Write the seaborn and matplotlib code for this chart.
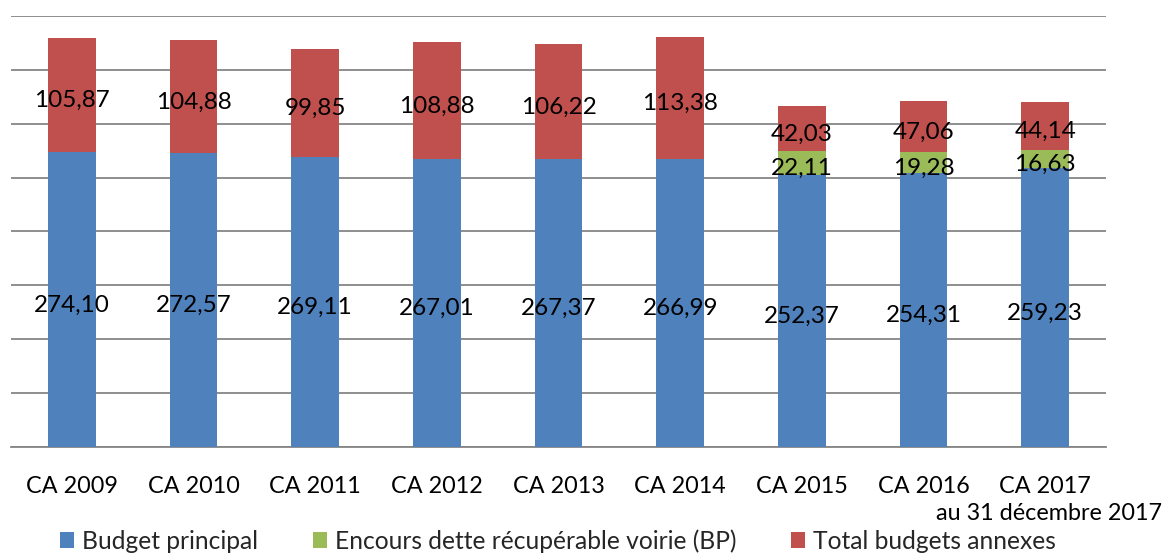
import matplotlib
matplotlib.use("Agg")
import matplotlib.pyplot as plt
from matplotlib.patches import Patch
import numpy as np
import pandas as pd
import seaborn as sns

categories = ["CA 2009", "CA 2010", "CA 2011", "CA 2012", "CA 2013",
              "CA 2014", "CA 2015", "CA 2016", "CA 2017"]
budget_principal = [274.10, 272.57, 269.11, 267.01, 267.37, 266.99, 252.37, 254.31, 259.23]
encours_voirie = [0, 0, 0, 0, 0, 0, 22.11, 19.28, 16.63]
budgets_annexes = [105.87, 104.88, 99.85, 108.88, 106.22, 113.38, 42.03, 47.06, 44.14]
series_names = ["Budget principal", "Encours dette récupérable voirie (BP)", "Total budgets annexes"]
colors = ["#4F81BD", "#9BBB59", "#C0504D"]
note = "au 31 décembre 2017"

sns.set_theme(style="white")
plt.rcParams["font.family"] = ["Lato", "DejaVu Sans"]
FS = 17.5
TFS = 16.8
LFS = 17.7

df = pd.DataFrame({"cat": categories,
                   "bp": budget_principal,
                   "ev": encours_voirie,
                   "ba": budgets_annexes})
df["c1"] = df["bp"]
df["c2"] = df["bp"] + df["ev"]
df["c3"] = df["c2"] + df["ba"]

fig = plt.figure(figsize=(11.65, 5.54), dpi=100)
ax = fig.add_axes([11 / 1165, 1 - 447 / 554, (1106 - 11) / 1165, (447 - 16) / 554])

W = 0.39
sns.barplot(data=df, x="cat", y="c3", color=colors[2], width=W, ax=ax,
            saturation=1, errorbar=None, linewidth=0, zorder=3)
sns.barplot(data=df, x="cat", y="c2", color=colors[1], width=W, ax=ax,
            saturation=1, errorbar=None, linewidth=0, zorder=3)
sns.barplot(data=df, x="cat", y="c1", color=colors[0], width=W, ax=ax,
            saturation=1, errorbar=None, linewidth=0, zorder=3)

def fmt(v):
    return f"{v:.2f}".replace(".", ",")

def label(x, y, v):
    ax.annotate(fmt(v), xy=(x, y), xytext=(0, -4), textcoords="offset points",
                ha="center", va="center", fontsize=FS, color="black", zorder=5)

for i, row in df.iterrows():
    label(i, row["bp"] / 2, row["bp"])
    if row["ev"] > 0:
        label(i, row["c1"] + row["ev"] / 2, row["ev"])
    label(i, row["c2"] + row["ba"] / 2, row["ba"])

ax.set_ylim(0, 400)
ax.set_xlim(-0.5, len(categories) - 0.5)
ax.set_yticks(np.arange(0, 401, 50))
ax.set_yticklabels([])
ax.tick_params(axis="y", length=0)
ax.yaxis.grid(True, color="#868686", linewidth=1.3, zorder=0)
ax.set_axisbelow(True)
ax.set_xlabel("")
ax.set_ylabel("")

for s in ["left", "right", "top"]:
    ax.spines[s].set_visible(False)
ax.spines["bottom"].set_color("#868686")
ax.spines["bottom"].set_linewidth(1.3)

ax.set_xticks(np.arange(-0.5, len(categories), 1.0), minor=True)
ax.tick_params(axis="x", which="minor", length=7, width=1.3, color="#868686", direction="out")
ax.tick_params(axis="x", which="major", length=0, pad=21, labelsize=TFS, labelcolor="black")

fig.text(1162 / 1165, 1 - 513 / 554, note, ha="right", va="center", fontsize=TFS, color="black")

handles = [Patch(facecolor=c, edgecolor="none") for c in colors]
fig.legend(handles, series_names, loc="center left", bbox_to_anchor=(60 / 1165, 1 - 541 / 554),
           ncol=3, frameon=False, fontsize=LFS, handlelength=0.58, handleheight=0.58,
           handletextpad=0.33, columnspacing=2.2, borderpad=0, borderaxespad=0)

fig.savefig("out.png", dpi=100)
